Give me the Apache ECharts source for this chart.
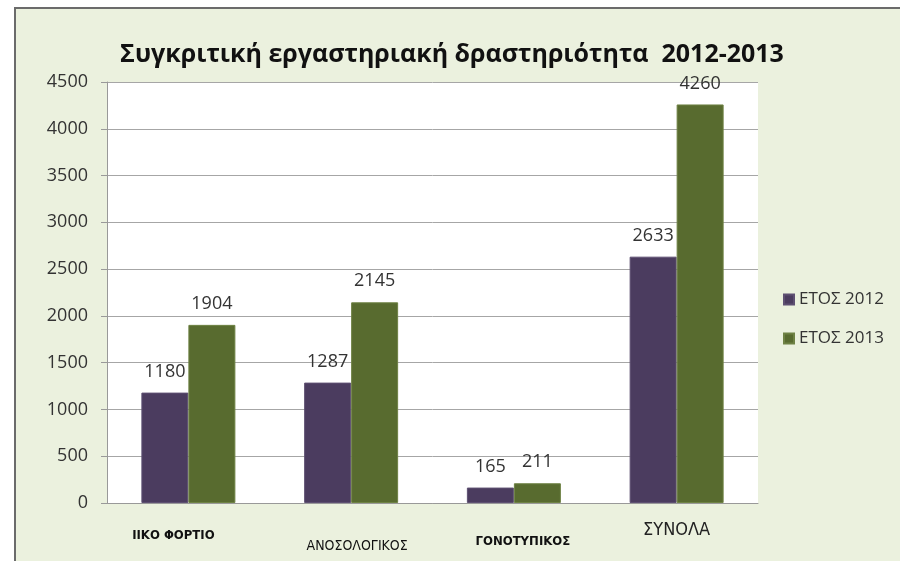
<!DOCTYPE html>
<html>
<head>
<meta charset="utf-8">
<script src="https://cdn.jsdelivr.net/npm/echarts@6/dist/echarts.min.js"></script>
<style>
  html, body { margin: 0; padding: 0; background: #fff; }
  #chart { width: 900px; height: 561px; }
</style>
</head>
<body>
<div id="chart"></div>
<script>
var categories = ['ΙΙΚΟ ΦΟΡΤΙΟ', 'ΑΝΟΣΟΛΟΓΙΚΟΣ', 'ΓΟΝΟΤΥΠΙΚΟΣ', 'ΣΥΝΟΛΑ']
var labelStyles = ['a', 'b', 'c', 'd']
var seriesNames = ['ΕΤΟΣ 2012', 'ΕΤΟΣ 2013']
var values2012 = [1180, 1287, 165, 2633]
var values2013 = [1904, 2145, 211, 4260]
var yTicks = { min: 0, max: 4500, interval: 500 }

var myChart = echarts.init(document.getElementById('chart'))

var option = {
  animation: false,
  backgroundColor: '#fff',
  color: ['#4B3C5F', '#586B2F'],
  graphic: [
    {
      type: 'rect',
      z: -10,
      shape: { x: 15, y: 8, width: 900, height: 570 },
      style: { fill: '#EBF1DE', stroke: '#6b6b6b', lineWidth: 2 }
    },
    {
      type: 'rect',
      z: -9,
      shape: { x: 107, y: 82, width: 651, height: 421 },
      style: { fill: '#ffffff' }
    }
  ],
  title: {
    text: 'Συγκριτική εργαστηριακή δραστηριότητα  2012-2013',
    left: 447,
    textAlign: 'center',
    top: 37,
    textStyle: {
      fontFamily: 'Open Sans',
      fontWeight: 'bold',
      fontSize: 25,
      color: '#111'
    }
  },
  legend: {
    orient: 'vertical',
    left: 778,
    top: 286,
    icon: 'rect',
    itemWidth: 10,
    itemHeight: 10,
    itemGap: 22,
    data: seriesNames,
    textStyle: { fontFamily: 'Open Sans', fontSize: 17, color: '#333' }
  },
  grid: { left: 107, right: 142, top: 82, bottom: 58 },
  xAxis: {
    type: 'category',
    data: categories,
    axisLine: { lineStyle: { color: '#999', width: 1 } },
    axisTick: { show: false },
    axisLabel: {
      interval: 0,
      margin: 0,
      formatter: function (v, i) {
        return '{' + labelStyles[i] + '|' + v + '}'
      },
      rich: {
        a: { fontFamily: 'DejaVu Sans Condensed, Liberation Sans', fontWeight: 'bold', fontSize: 13, color: '#111', padding: [26, 30, 0, 0] },
        b: { fontFamily: 'DejaVu Sans Condensed, Liberation Sans', fontSize: 14, color: '#111', padding: [36, 0, 0, 12] },
        c: { fontFamily: 'DejaVu Sans Condensed, Liberation Sans', fontWeight: 'bold', fontSize: 13, color: '#111', padding: [32, 0, 0, 18] },
        d: { fontFamily: 'DejaVu Sans Condensed, Liberation Sans', fontSize: 18, color: '#222', padding: [18, 0, 0, 0] }
      }
    }
  },
  yAxis: {
    type: 'value',
    min: yTicks.min,
    max: yTicks.max,
    interval: yTicks.interval,
    axisLine: { show: true, lineStyle: { color: '#999' } },
    axisTick: { show: true, length: 6, lineStyle: { color: '#999' } },
    splitLine: { lineStyle: { color: '#A6A6A6' } },
    axisLabel: {
      fontFamily: 'Open Sans',
      fontSize: 18,
      color: '#333',
      margin: 19,
      formatter: function (v) { return String(v) }
    }
  },
  series: [
    {
      name: seriesNames[0],
      type: 'bar',
      barWidth: 47,
      barGap: '0%',
      data: values2012,
      itemStyle: { borderColor: '#5e5072', borderWidth: 1 },
      label: { show: true, position: 'top', distance: 12, fontFamily: 'Open Sans', fontSize: 18, color: '#333' }
    },
    {
      name: seriesNames[1],
      type: 'bar',
      barWidth: 47,
      barGap: '0%',
      data: values2013,
      itemStyle: { borderColor: '#6e8244', borderWidth: 1 },
      label: { show: true, position: 'top', distance: 12, fontFamily: 'Open Sans', fontSize: 18, color: '#333' }
    }
  ]
}

myChart.setOption(option)
</script>
</body>
</html>
